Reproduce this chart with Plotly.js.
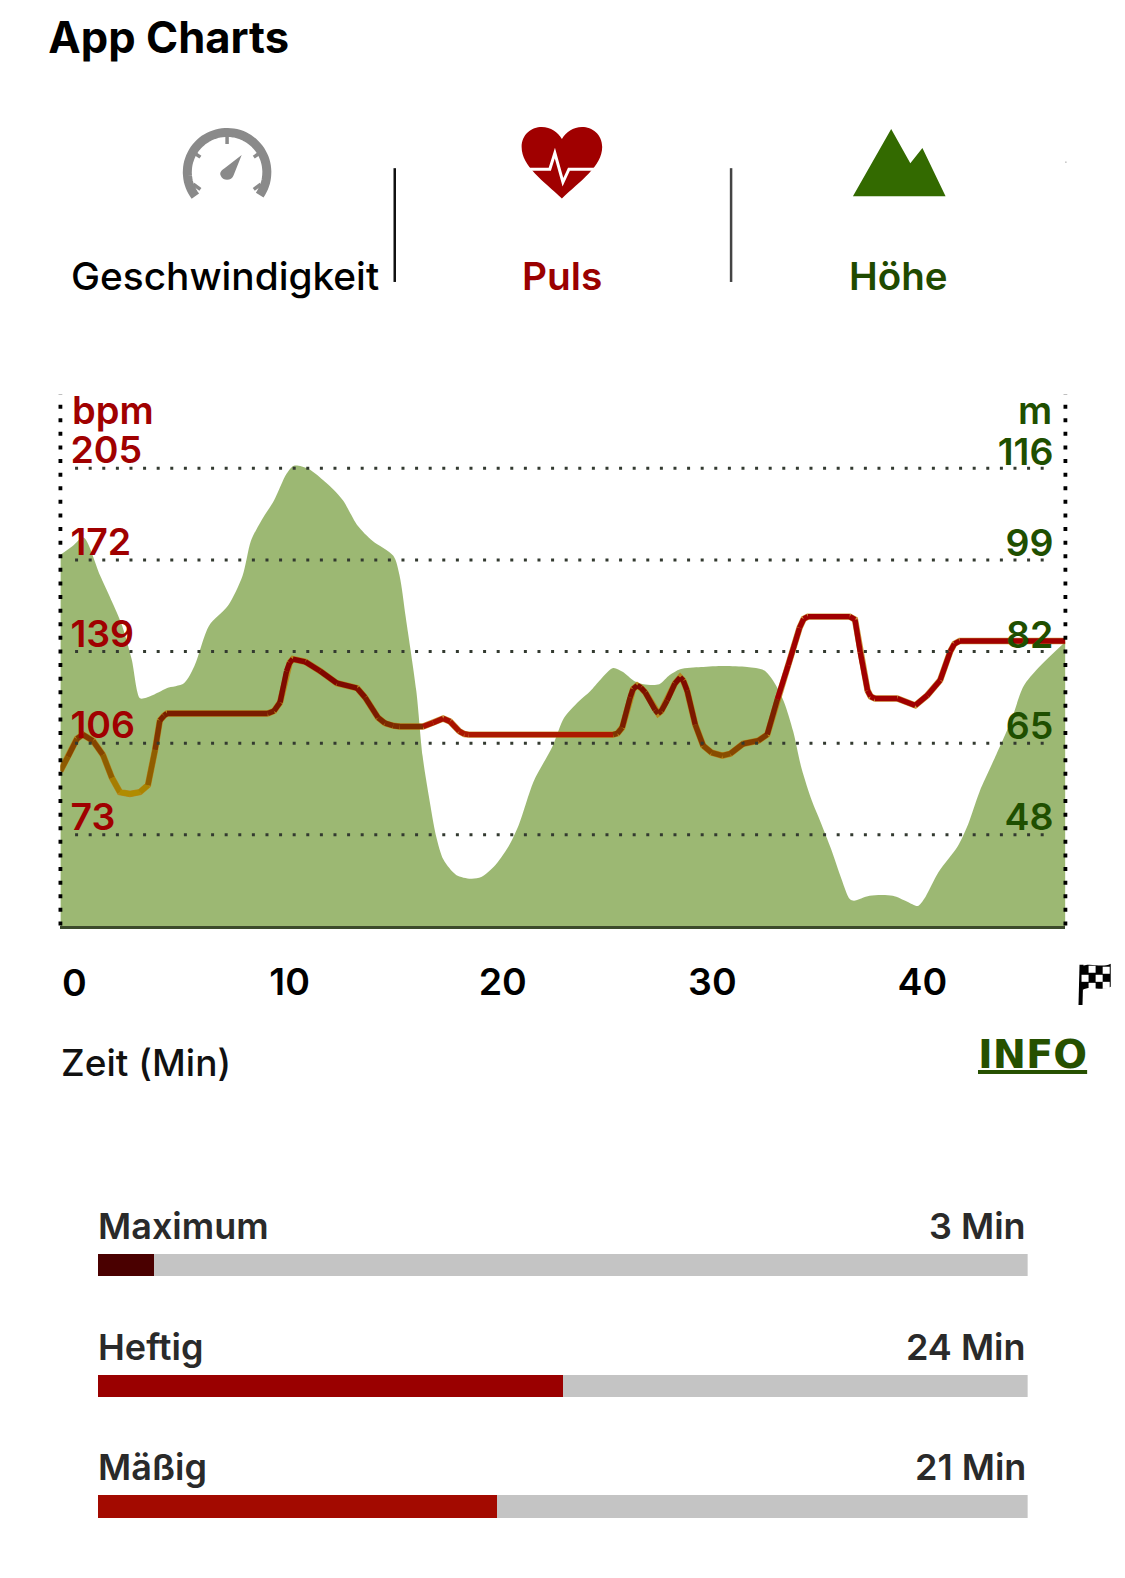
<!DOCTYPE html>
<html><head><meta charset="utf-8">
<script src="https://cdn.plot.ly/plotly-3.0.1.min.js"></script>
<style>html,body{margin:0;padding:0;background:#fff}#c{width:1125px;height:1578px}</style>
</head><body><div id="c"></div>
<script>
const minutesElev=[0,0.6,1.1,1.9,2.9,3.4,3.8,4.1,4.7,5.1,5.9,6.4,7.1,8,8.7,9.1,9.6,10.2,10.8,11.15,11.8,12.4,13,13.5,14.2,14.9,15.9,16.2,16.5,17,17.3,17.6,17.95,18.3,18.9,19.6,20.1,20.7,21.4,21.9,22.6,23.5,24.05,24.75,25.3,25.8,26.4,26.85,27.4,27.85,28.6,29.1,29.6,30.6,31.7,32.8,33.6,34.05,34.55,35,35.4,35.9,36.3,36.8,37.3,37.7,37.9,38.65,39.75,40.45,40.95,41.25,41.95,42.85,43.35,43.9,44.7,45.4,46,46.7,48];
const elevation=[100.2,101.9,103.4,96.3,87.5,80.8,73.5,73.6,74.6,75.4,76.3,79.5,87,90.7,96.3,102.8,106.6,110.3,115.3,116.8,116.3,114.6,112.5,110.3,105.6,102.8,100,96.3,88.4,74.8,62.7,55.2,47.7,43.4,40.6,39.9,40.2,42.1,45.9,50,58,64.5,69.8,72.9,74.8,77,79.1,78.4,76.7,76.1,76.1,77.8,78.9,79.3,79.5,79.3,78.7,76.7,72.9,67.3,60.4,54.3,50.5,45.5,39.9,36.1,35.8,36.7,36.7,35.6,34.8,36.1,41.2,45.9,50,56.1,63,69.2,75.7,79.1,84];
const minutesPulse=[0,0.36,0.79,1.07,1.55,2.03,2.46,2.84,3.32,3.8,4.18,4.52,4.75,4.95,5.09,9.9,10.2,10.49,10.8,10.95,11.1,11.7,12.4,13.21,14.17,14.55,15.17,15.5,15.89,16.2,17.32,17.8,18.28,18.61,19.05,19.3,19.5,26.4,26.6,26.83,27.21,27.35,27.55,27.72,27.93,28.4,28.55,28.7,28.98,29.35,29.6,29.75,29.93,30.32,30.7,31.1,31.61,31.99,32.61,33.33,33.76,34.24,34.76,35.3,35.5,35.7,37.7,37.95,38.2,38.55,38.7,38.9,39.97,40.83,41.4,42.02,42.5,42.7,42.95,48];
const pulse=[96,101.1,107.6,109.1,106.9,101.8,93.5,88.4,87.7,88.4,90.9,103.6,114.2,115.9,116.7,116.7,117.6,120.7,131.9,135,136.3,135.3,132,127.6,125.8,122.5,115.2,113.2,112.3,112,112,113.4,114.9,113.8,110.3,109.3,109.1,109.1,109.5,111.6,122.5,125.5,126.8,126,124.3,118,116.7,117.6,121.4,127.5,129.7,128.5,125,112.7,105.1,102.6,101.5,102.2,105.8,106.9,109.1,121.8,134.1,147.5,150.8,151.6,151.6,150.5,138.8,125,122.8,122.1,122.1,119.6,123.2,128.7,139,141.8,142.8,142.8];
const timeTicks=[0,10,20,30,40];
const bpmTicks=[73,106,139,172,205];
const meterTicks=[48,65,82,99,116];
const zones=['Maximum','Heftig','Mäßig'];
const zoneLabels=[3,24,21];
const zoneBars=[2.9,24,20.6];
const zoneColors=['#4a0000','#9a0000','#a30a00'];
const totalMinutes=48;

const W=1125,H=1578,S=1.007;
const bpmRange=[40,231.5],mRange=[31,130];
const px=x=>x*S/W, py=y=>1-y*S/H;
const pth=s=>s.replace(/(-?[\d.]+),(-?[\d.]+)/g,(m,a,b)=>px(+a)+','+py(+b));
const FONT='Inter, Roboto, sans-serif';

function lerp(a,b,t){return a+(b-a)*t}
const greenStops=[[88,[176,140,0]],[97,[143,95,0]],[109,[127,53,0]],[117,[122,28,0]],[130,[128,5,0]],[150,[160,0,0]]];
const whiteStops=[[88,[190,120,0]],[109,[172,26,0]],[120,[160,0,0]],[150,[160,0,0]]];
function ramp(st,v){
  if(v<=st[0][0])return st[0][1];
  for(let i=1;i<st.length;i++){if(v<=st[i][0]){const t=(v-st[i-1][0])/(st[i][0]-st[i-1][0]);return st[i-1][1].map((c,k)=>Math.round(lerp(c,st[i][1][k],t)))}}
  return st[st.length-1][1];
}
function elevAt(x){for(let i=1;i<minutesElev.length;i++){if(x<=minutesElev[i]){const t=(x-minutesElev[i-1])/(minutesElev[i]-minutesElev[i-1]);return lerp(elevation[i-1],elevation[i],t)}}return elevation[elevation.length-1]}

const traces=[];
traces.push({type:'scatter',mode:'lines',x:minutesElev,y:elevation,xaxis:'x',yaxis:'y',fill:'tozeroy',
  fillcolor:'rgba(81,131,8,0.57)',line:{width:0,shape:'spline',smoothing:0.8},name:'Höhe',hoverinfo:'skip',showlegend:false});
traces.push({type:'scatter',mode:'lines',x:minutesPulse,y:pulse,xaxis:'x',yaxis:'y2',line:{width:6.4,color:'rgba(190,120,0,0.75)'},name:'Puls',hoverinfo:'skip',showlegend:false});
const groups={};
for(let i=0;i<pulse.length-1;i++){
  const xm=(minutesPulse[i]+minutesPulse[i+1])/2, v=(pulse[i]+pulse[i+1])/2;
  const over=(v-bpmRange[0])/(bpmRange[1]-bpmRange[0])>(elevAt(xm)-mRange[0])/(mRange[1]-mRange[0]);
  const c=ramp(over?whiteStops:greenStops,v);
  const key='rgb('+c.join(',')+')';
  (groups[key]=groups[key]||{x:[],y:[]});
  groups[key].x.push(minutesPulse[i],minutesPulse[i+1],null);
  groups[key].y.push(pulse[i],pulse[i+1],null);
}
Object.keys(groups).forEach(k=>traces.push({type:'scatter',mode:'lines',x:groups[k].x,y:groups[k].y,xaxis:'x',yaxis:'y2',line:{width:5.4,color:k},hoverinfo:'skip',showlegend:false}));

traces.push({type:'bar',orientation:'h',y:zones,x:zoneBars,xaxis:'x2',yaxis:'y3',width:0.183,marker:{color:zoneColors},hoverinfo:'skip',showlegend:false});
traces.push({type:'bar',orientation:'h',y:zones,x:zoneBars.map(v=>totalMinutes-v),xaxis:'x2',yaxis:'y3',width:0.183,marker:{color:'#c4c4c4'},hoverinfo:'skip',showlegend:false});

const dotH='3px,10.6px', dotV='4px,9.6px';
const shapes=[];
bpmTicks.forEach(v=>shapes.push({type:'line',xref:'x',yref:'y2',x0:0.7,x1:47.4,y0:v,y1:v,line:{color:'#333a30',width:3,dash:dotH},layer:'above'}));
[60,1058].forEach(v=>shapes.push({type:'line',xref:'paper',yref:'paper',x0:px(v),x1:px(v),y0:py(919),y1:py(392),line:{color:'#000',width:3.8,dash:dotV},layer:'above'}));
shapes.push({type:'line',xref:'paper',yref:'paper',x0:px(392),x1:px(392),y0:py(167),y1:py(280),line:{color:'#111',width:2.5}});
shapes.push({type:'line',xref:'paper',yref:'paper',x0:px(726),x1:px(726),y0:py(167),y1:py(280),line:{color:'#444',width:2.5}});
function iconPath(s,fill,line){shapes.push({type:'path',xref:'paper',yref:'paper',path:pth(s),fillcolor:fill||'rgba(0,0,0,0)',line:line||{width:0},layer:'above'})}
(function(){const cx=225.5,cy=171,r=39.5;let s='';for(let a=-127;a<=127;a+=4){const t=a*Math.PI/180;s+=(a==-127?'M ':'L ')+(cx+r*Math.sin(t)).toFixed(1)+','+(cy-r*Math.cos(t)).toFixed(1)+' '}
 iconPath(s,null,{color:'#8a8a8a',width:9});
 iconPath('M 225.5,134 L 225.5,143',null,{color:'#8a8a8a',width:3.5});
 iconPath('M 193,152 L 199,156',null,{color:'#8a8a8a',width:3.5});
 iconPath('M 258,152 L 252,156',null,{color:'#8a8a8a',width:3.5});
 iconPath('M 192,183 L 199,188',null,{color:'#8a8a8a',width:3.5});
 iconPath('M 259,183 L 252,188',null,{color:'#8a8a8a',width:3.5});
 iconPath('M 240,154 L 232,174 C 230,180 221,180 219,174 C 218,171 220,169 223,167 Z','#8a8a8a');
})();
iconPath('M 558,197 C 540,180 518,165 518,146 C 518,133 528,126 538,126 C 547,126 554,131 558,138 C 562,131 569,126 578,126 C 588,126 598,133 598,146 C 598,165 576,180 558,197 Z','#a00000');
iconPath('M 520,168 L 546,168 L 551,152 L 559,181 L 565,168 L 596,168',null,{color:'#fff',width:3});
iconPath('M 847,195 L 885,128 L 904,162 L 916,147 L 939,195 Z','#336a00');
iconPath('M 1058,161 L 1059,161',null,{color:'#777',width:1});
iconPath('M 1074,958 L 1073,998',null,{color:'#000',width:4});
iconPath('M 1073,960 C 1083,955 1093,962 1103,957 L 1103,980 C 1093,985 1083,978 1075,983 Z','#000');
['1081,959','1095,960','1074,968','1088,968','1081,976','1095,975'].forEach(c=>{const [x,y]=c.split(',').map(Number);iconPath(`M ${x},${y} L ${x+7},${y} L ${x+7},${y+7} L ${x},${y+7} Z`,'#fff')});

function note(text,x,y,anchor,size,color,weight,extra){return Object.assign({text:text,xref:'paper',yref:'paper',x:px(x),y:py(y),xanchor:anchor,yanchor:'middle',showarrow:false,font:{family:FONT,size:size,color:color,weight:weight||600}},extra||{})}
const annotations=[
 note('Geschwindigkeit',223,274,'center',38.8,'#000',500),
 note('Puls',558,274,'center',38.8,'#9a0000',600),
 note('Höhe',892,274,'center',38.5,'#1f4a00',600),
 note('bpm',70,407,'left',38,'#a00000',600),
 note('m',1047,407,'right',38,'#1f4f00',600),
 note('Zeit (Min)',59,1055,'left',37,'#111',500),
 note(String(timeTicks[0]),60,976,'left',37.5,'#000',600),
 {text:'INFO',xref:'paper',yref:'paper',x:px(1081),y:py(1047),xanchor:'right',yanchor:'middle',showarrow:false,font:{family:'DejaVu Sans',size:39.8,color:'#265000',weight:700,lineposition:'under'}}
];
zones.forEach((z,i)=>{
 annotations.push({text:z,xref:'x2',yref:'y3',x:0,y:z,xanchor:'left',yanchor:'middle',yshift:39,xshift:-2,showarrow:false,font:{family:FONT,size:36,color:'#2a2a2a',weight:600}});
 annotations.push({text:zoneLabels[i]+' Min',xref:'x2',yref:'y3',x:totalMinutes,y:z,xanchor:'right',yanchor:'middle',yshift:39,xshift:0,showarrow:false,font:{family:FONT,size:36,color:'#2a2a2a',weight:600}});
});

const layout={
 width:W,height:H,margin:{l:0,r:0,t:0,b:0,autoexpand:false},paper_bgcolor:'#fff',plot_bgcolor:'rgba(0,0,0,0)',showlegend:false,barmode:'stack',
 title:{text:'<b>App Charts</b>',x:px(48),xref:'paper',xanchor:'left',y:py(38),yref:'paper',yanchor:'middle',font:{family:FONT,size:43.5,color:'#000'}},
 xaxis:{domain:[px(60),px(1058)],range:[0,totalMinutes],tickmode:'array',tickvals:timeTicks.slice(1),ticktext:timeTicks.slice(1).map(String),ticklabelposition:'outside right',ticklabeloverflow:'allow',ticklabelshift:-2,ticks:'',showgrid:false,zeroline:false,showline:true,linecolor:'#3c4a2c',linewidth:3,ticklabelstandoff:21,tickfont:{family:FONT,size:37.5,color:'#000',weight:600},anchor:'y'},
 yaxis:{domain:[py(920),py(392)],range:mRange,side:'right',anchor:'x',tickmode:'array',tickvals:meterTicks,ticktext:meterTicks.map(String),ticklabelposition:'inside',ticks:'',showgrid:false,zeroline:false,showline:false,ticklabelshift:-18,ticklabelstandoff:9,tickfont:{family:FONT,size:37.5,color:'#1f4f00',weight:600}},
 yaxis2:{domain:[py(920),py(392)],range:bpmRange,overlaying:'y',side:'left',anchor:'x',tickmode:'array',tickvals:bpmTicks,ticktext:bpmTicks.map(String),ticklabelposition:'inside',ticks:'',showgrid:false,zeroline:false,showline:false,ticklabelshift:-18,ticklabelstandoff:7,tickfont:{family:FONT,size:37.5,color:'#a00000',weight:600}},
 xaxis2:{domain:[px(97),px(1020.5)],range:[0,totalMinutes],anchor:'y3',visible:false,fixedrange:true},
 yaxis3:{domain:[py(1556),py(1196)],type:'category',categoryorder:'array',categoryarray:zones,range:[2.5,-0.5],anchor:'x2',visible:false,fixedrange:true},
 shapes:shapes,annotations:annotations
};
Plotly.newPlot('c',traces,layout,{displayModeBar:false,staticPlot:true});
</script></body></html>
